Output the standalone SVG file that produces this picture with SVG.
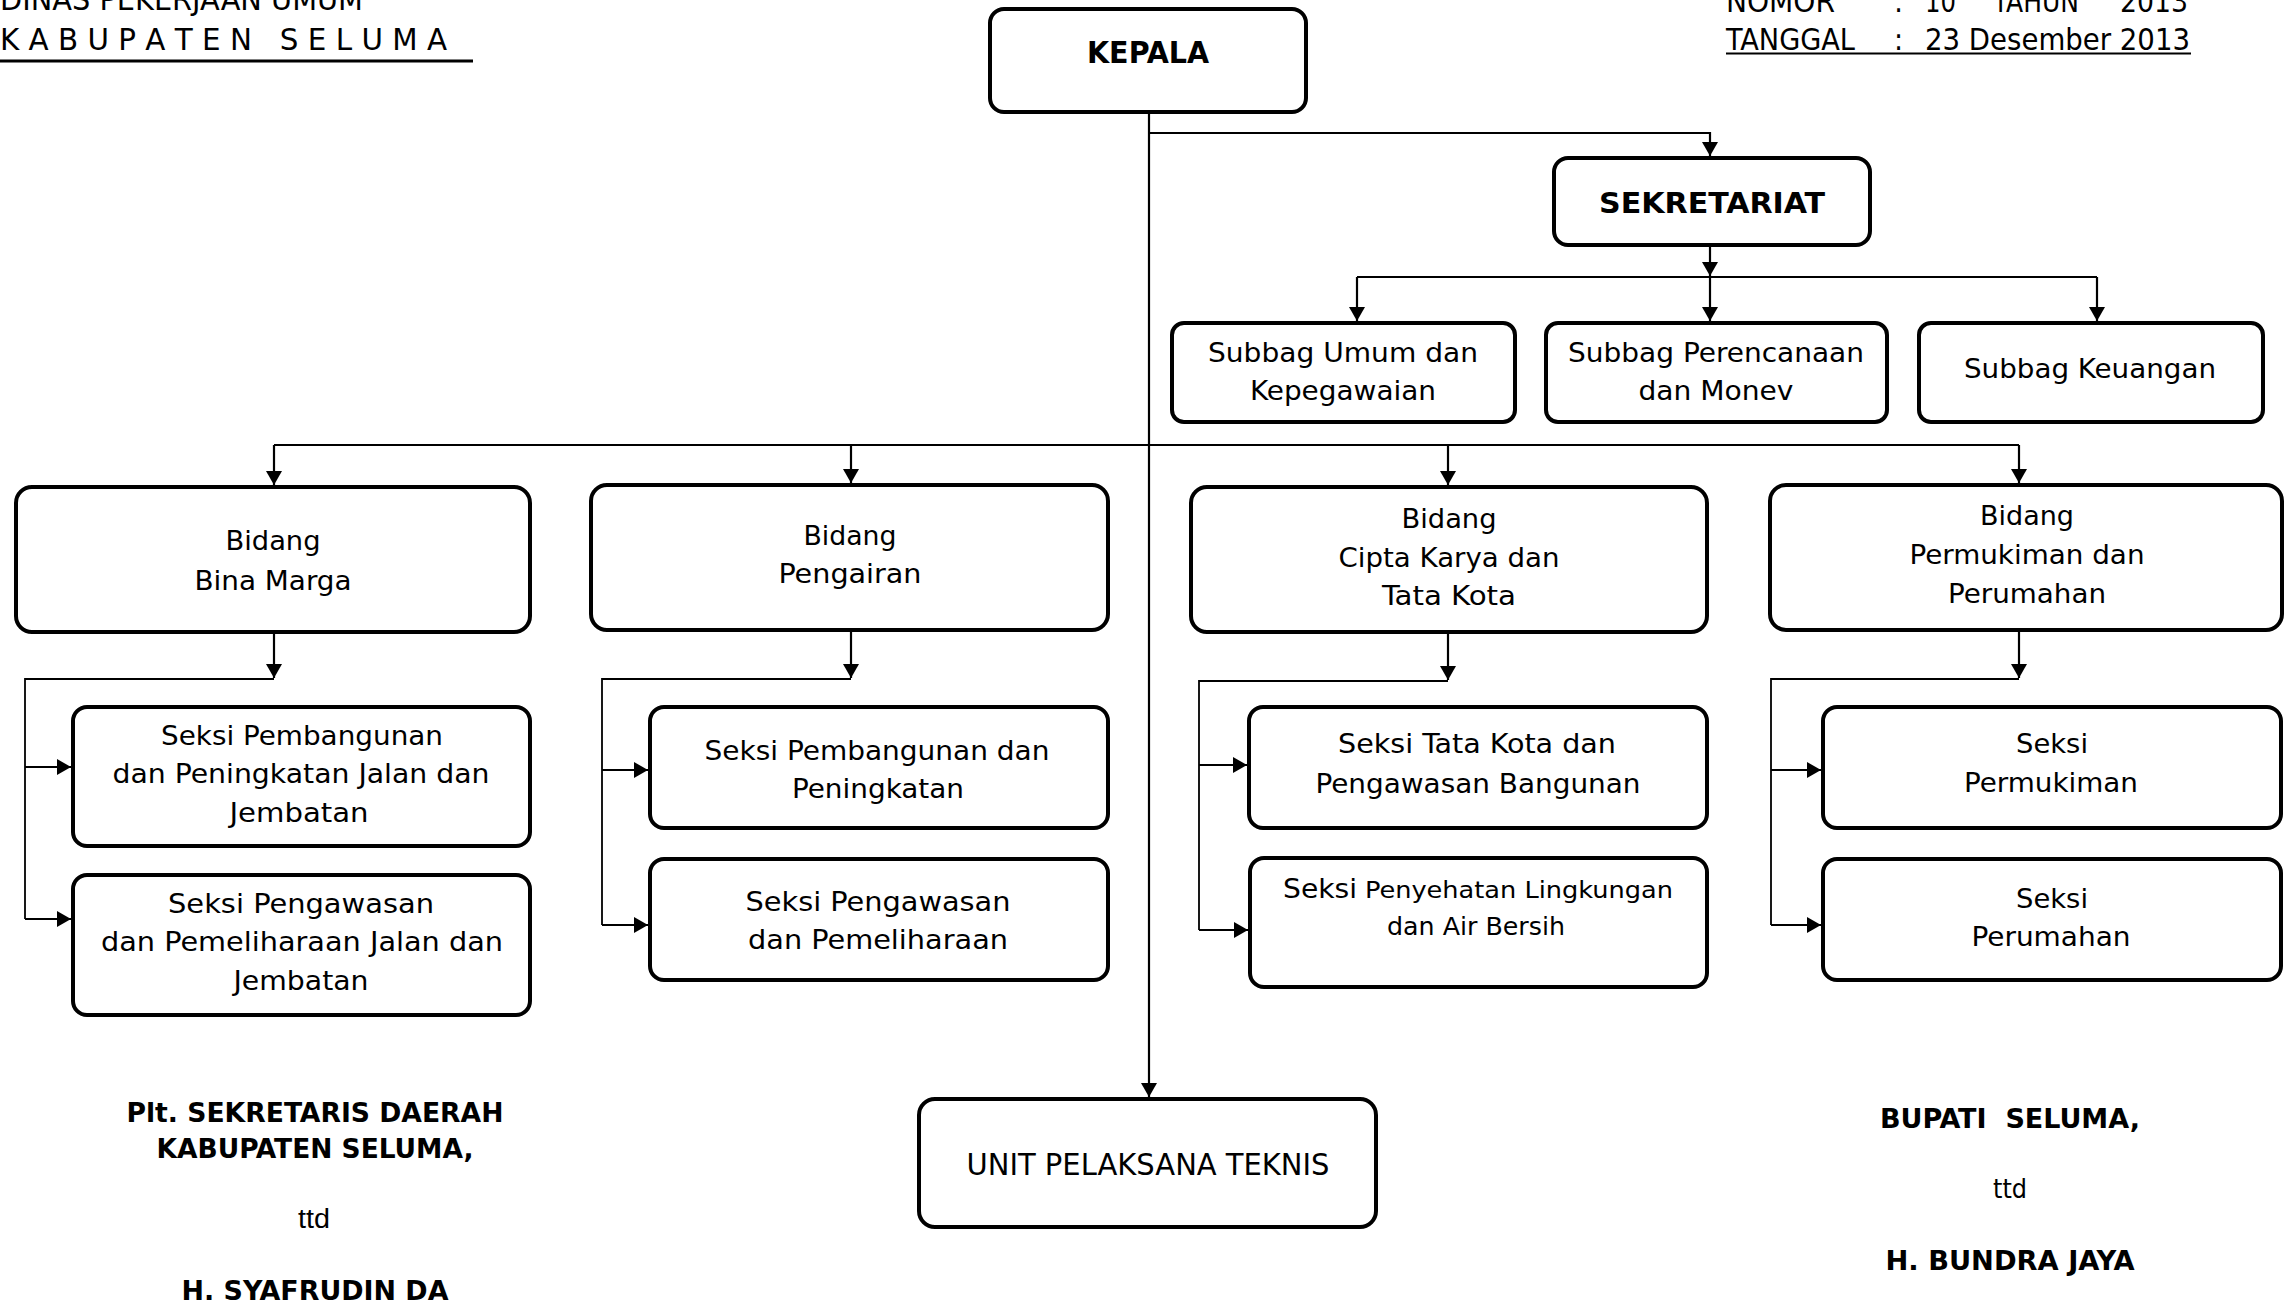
<svg xmlns="http://www.w3.org/2000/svg" width="2294" height="1306" viewBox="0 0 2294 1306">
<style>
text{font-family:"DejaVu Sans Condensed","DejaVu Sans",sans-serif;fill:#000;}
.n{font-size:27px;text-anchor:middle;}
.b{font-size:28px;font-weight:bold;text-anchor:middle;}
.h{font-size:30px;}
.pre{white-space:pre;}
.box{fill:#fff;stroke:#000;stroke-width:4;}
.c{fill:none;stroke:#000;stroke-width:2.2;}
.t{fill:none;stroke:#000;stroke-width:1.8;}
.sig{font-size:27px;font-weight:bold;text-anchor:middle;}
</style>
<defs>
<marker id="ah" markerUnits="userSpaceOnUse" markerWidth="15" markerHeight="16" refX="14" refY="8" orient="auto">
<path d="M0,0 L14,8 L0,16 z" fill="#000"/>
</marker>
</defs>
<rect width="2294" height="1306" fill="#fff"/>

<g id="header-left">
<text class="h" x="0" y="10" textLength="363" lengthAdjust="spacingAndGlyphs">DINAS PEKERJAAN UMUM</text>
<text class="h pre" x="0" y="50" xml:space="preserve" textLength="447" lengthAdjust="spacingAndGlyphs">K A B U P A T E N   S E L U M A</text>
<line x1="0" y1="61" x2="473" y2="61" stroke="#000" stroke-width="3"/>
</g>
<g id="header-right">
<text class="h" x="1726" y="12" textLength="109" lengthAdjust="spacingAndGlyphs">NOMOR</text>
<text class="h" x="1894" y="12">:</text>
<text class="h" x="1925" y="12" textLength="31" lengthAdjust="spacingAndGlyphs">10</text>
<text class="h" x="1993" y="12" textLength="86" lengthAdjust="spacingAndGlyphs">TAHUN</text>
<text class="h" x="2120" y="12" textLength="68" lengthAdjust="spacingAndGlyphs">2013</text>
<text class="h" x="1726" y="50" textLength="129" lengthAdjust="spacingAndGlyphs">TANGGAL</text>
<text class="h" x="1894" y="50">:</text>
<text class="h" x="1925" y="50" textLength="265" lengthAdjust="spacingAndGlyphs">23 Desember 2013</text>
<line x1="1726" y1="53.5" x2="2191" y2="53.5" stroke="#000" stroke-width="2.2"/>
</g>

<g id="connectors">
<path class="c" d="M1149,112 V1097" marker-end="url(#ah)"/>
<path class="c" d="M1149,133 H1710 V156" marker-end="url(#ah)"/>
<path class="c" d="M1710,245 V276" marker-end="url(#ah)"/>
<path class="c" d="M1357,277 H2097"/>
<path class="c" d="M1357,277 V321" marker-end="url(#ah)"/>
<path class="c" d="M1710,277 V321" marker-end="url(#ah)"/>
<path class="c" d="M2097,277 V321" marker-end="url(#ah)"/>
<path class="c" d="M274,445 H2019"/>
<path class="c" d="M274,445 V485" marker-end="url(#ah)"/>
<path class="c" d="M851,445 V483" marker-end="url(#ah)"/>
<path class="c" d="M1448,445 V485" marker-end="url(#ah)"/>
<path class="c" d="M2019,445 V483" marker-end="url(#ah)"/>

<path class="c" d="M274,632 V678" marker-end="url(#ah)"/>
<path class="t" d="M274,679 H25 V919"/>
<path class="c" d="M25,767 H71" marker-end="url(#ah)"/>
<path class="c" d="M25,919 H71" marker-end="url(#ah)"/>

<path class="c" d="M851,630 V678" marker-end="url(#ah)"/>
<path class="t" d="M851,679 H602 V925"/>
<path class="c" d="M602,770 H648" marker-end="url(#ah)"/>
<path class="c" d="M602,925 H648" marker-end="url(#ah)"/>

<path class="c" d="M1448,632 V680" marker-end="url(#ah)"/>
<path class="t" d="M1448,681 H1199 V930"/>
<path class="c" d="M1199,765 H1247" marker-end="url(#ah)"/>
<path class="c" d="M1199,930 H1248" marker-end="url(#ah)"/>

<path class="c" d="M2019,630 V678" marker-end="url(#ah)"/>
<path class="t" d="M2019,679 H1771 V925"/>
<path class="c" d="M1771,770 H1821" marker-end="url(#ah)"/>
<path class="c" d="M1771,925 H1821" marker-end="url(#ah)"/>
</g>

<g id="kepala">
<rect class="box" x="990" y="9" width="316" height="103" rx="14"/>
<text class="b" x="1148" y="63" textLength="122" lengthAdjust="spacingAndGlyphs" style="font-size:30px">KEPALA</text>
</g>
<g id="sekretariat">
<rect class="box" x="1554" y="158" width="316" height="87" rx="14"/>
<text class="b" x="1712" y="213" textLength="226" lengthAdjust="spacingAndGlyphs">SEKRETARIAT</text>
</g>
<g id="subbag-umum">
<rect class="box" x="1172" y="323" width="343" height="99" rx="12"/>
<text class="n" x="1343" y="362" textLength="270" lengthAdjust="spacingAndGlyphs">Subbag Umum dan</text>
<text class="n" x="1343" y="400" textLength="186" lengthAdjust="spacingAndGlyphs">Kepegawaian</text>
</g>
<g id="subbag-perencanaan">
<rect class="box" x="1546" y="323" width="341" height="99" rx="12"/>
<text class="n" x="1716" y="362" textLength="296" lengthAdjust="spacingAndGlyphs">Subbag Perencanaan</text>
<text class="n" x="1716" y="400" textLength="155" lengthAdjust="spacingAndGlyphs">dan Monev</text>
</g>
<g id="subbag-keuangan">
<rect class="box" x="1919" y="323" width="344" height="99" rx="12"/>
<text class="n" x="2090" y="378" textLength="252" lengthAdjust="spacingAndGlyphs">Subbag Keuangan</text>
</g>

<g id="bidang-bina-marga">
<rect class="box" x="16" y="487" width="514" height="145" rx="16"/>
<text class="n" x="273" y="550" textLength="95" lengthAdjust="spacingAndGlyphs">Bidang</text>
<text class="n" x="273" y="590" textLength="157" lengthAdjust="spacingAndGlyphs">Bina Marga</text>
</g>
<g id="bidang-pengairan">
<rect class="box" x="591" y="485" width="517" height="145" rx="16"/>
<text class="n" x="850" y="545" textLength="93" lengthAdjust="spacingAndGlyphs">Bidang</text>
<text class="n" x="850" y="583" textLength="143" lengthAdjust="spacingAndGlyphs">Pengairan</text>
</g>
<g id="bidang-cipta-karya">
<rect class="box" x="1191" y="487" width="516" height="145" rx="16"/>
<text class="n" x="1449" y="528" textLength="95" lengthAdjust="spacingAndGlyphs">Bidang</text>
<text class="n" x="1449" y="567" textLength="221" lengthAdjust="spacingAndGlyphs">Cipta Karya dan</text>
<text class="n" x="1449" y="605" textLength="134" lengthAdjust="spacingAndGlyphs">Tata Kota</text>
</g>
<g id="bidang-permukiman">
<rect class="box" x="1770" y="485" width="512" height="145" rx="16"/>
<text class="n" x="2027" y="525" textLength="94" lengthAdjust="spacingAndGlyphs">Bidang</text>
<text class="n" x="2027" y="564" textLength="235" lengthAdjust="spacingAndGlyphs">Permukiman dan</text>
<text class="n" x="2027" y="603" textLength="158" lengthAdjust="spacingAndGlyphs">Perumahan</text>
</g>

<g id="seksi-bm-1">
<rect class="box" x="73" y="707" width="457" height="139" rx="14"/>
<text class="n" x="302" y="745" textLength="282" lengthAdjust="spacingAndGlyphs">Seksi Pembangunan</text>
<text class="n" x="301" y="783" textLength="377" lengthAdjust="spacingAndGlyphs">dan Peningkatan Jalan dan</text>
<text class="n" x="299" y="822" textLength="139" lengthAdjust="spacingAndGlyphs">Jembatan</text>
</g>
<g id="seksi-bm-2">
<rect class="box" x="73" y="875" width="457" height="140" rx="14"/>
<text class="n" x="301" y="913" textLength="266" lengthAdjust="spacingAndGlyphs">Seksi Pengawasan</text>
<text class="n" x="302" y="951" textLength="402" lengthAdjust="spacingAndGlyphs">dan Pemeliharaan Jalan dan</text>
<text class="n" x="301" y="990" textLength="135" lengthAdjust="spacingAndGlyphs">Jembatan</text>
</g>
<g id="seksi-p-1">
<rect class="box" x="650" y="707" width="458" height="121" rx="14"/>
<text class="n" x="877" y="760" textLength="345" lengthAdjust="spacingAndGlyphs">Seksi Pembangunan dan</text>
<text class="n" x="878" y="798" textLength="172" lengthAdjust="spacingAndGlyphs">Peningkatan</text>
</g>
<g id="seksi-p-2">
<rect class="box" x="650" y="859" width="458" height="121" rx="14"/>
<text class="n" x="878" y="911" textLength="265" lengthAdjust="spacingAndGlyphs">Seksi Pengawasan</text>
<text class="n" x="878" y="949" textLength="260" lengthAdjust="spacingAndGlyphs">dan Pemeliharaan</text>
</g>
<g id="seksi-c-1">
<rect class="box" x="1249" y="707" width="458" height="121" rx="14"/>
<text class="n" x="1477" y="753" textLength="278" lengthAdjust="spacingAndGlyphs">Seksi Tata Kota dan</text>
<text class="n" x="1478" y="793" textLength="325" lengthAdjust="spacingAndGlyphs">Pengawasan Bangunan</text>
</g>
<g id="seksi-c-2">
<rect class="box" x="1250" y="858" width="457" height="129" rx="14"/>
<text x="1283" y="898" style="font-size:26px">
<tspan textLength="74" lengthAdjust="spacingAndGlyphs">Seksi</tspan><tspan x="1365" style="font-size:23px" textLength="308" lengthAdjust="spacingAndGlyphs">Penyehatan Lingkungan</tspan></text>
<text class="n" x="1476" y="935" style="font-size:24px" textLength="178" lengthAdjust="spacingAndGlyphs">dan Air Bersih</text>
</g>
<g id="seksi-m-1">
<rect class="box" x="1823" y="707" width="458" height="121" rx="14"/>
<text class="n" x="2052" y="753" textLength="72" lengthAdjust="spacingAndGlyphs">Seksi</text>
<text class="n" x="2051" y="792" textLength="174" lengthAdjust="spacingAndGlyphs">Permukiman</text>
</g>
<g id="seksi-m-2">
<rect class="box" x="1823" y="859" width="458" height="121" rx="14"/>
<text class="n" x="2052" y="908" textLength="72" lengthAdjust="spacingAndGlyphs">Seksi</text>
<text class="n" x="2051" y="946" textLength="159" lengthAdjust="spacingAndGlyphs">Perumahan</text>
</g>

<g id="upt">
<rect class="box" x="919" y="1099" width="457" height="128" rx="16"/>
<text class="n" x="1148" y="1175" style="font-size:30px" textLength="363" lengthAdjust="spacingAndGlyphs">UNIT PELAKSANA TEKNIS</text>
</g>

<g id="signature-left">
<text class="sig" x="315" y="1122" textLength="377" lengthAdjust="spacingAndGlyphs">Plt. SEKRETARIS DAERAH</text>
<text class="sig" x="315" y="1158" textLength="317" lengthAdjust="spacingAndGlyphs">KABUPATEN SELUMA,</text>
<text x="314" y="1228" style="font-family:'Liberation Sans',Arial,sans-serif;font-size:27px;text-anchor:middle" textLength="32" lengthAdjust="spacingAndGlyphs">ttd</text>
<text class="sig" x="315" y="1300" textLength="267" lengthAdjust="spacingAndGlyphs">H. SYAFRUDIN DA</text>
</g>
<g id="signature-right">
<text class="sig pre" x="2010" y="1128" xml:space="preserve" textLength="260" lengthAdjust="spacingAndGlyphs">BUPATI  SELUMA,</text>
<text class="n" x="2010" y="1198" textLength="34" lengthAdjust="spacingAndGlyphs">ttd</text>
<text class="sig" x="2010" y="1270" textLength="249" lengthAdjust="spacingAndGlyphs">H. BUNDRA JAYA</text>
</g>
</svg>
